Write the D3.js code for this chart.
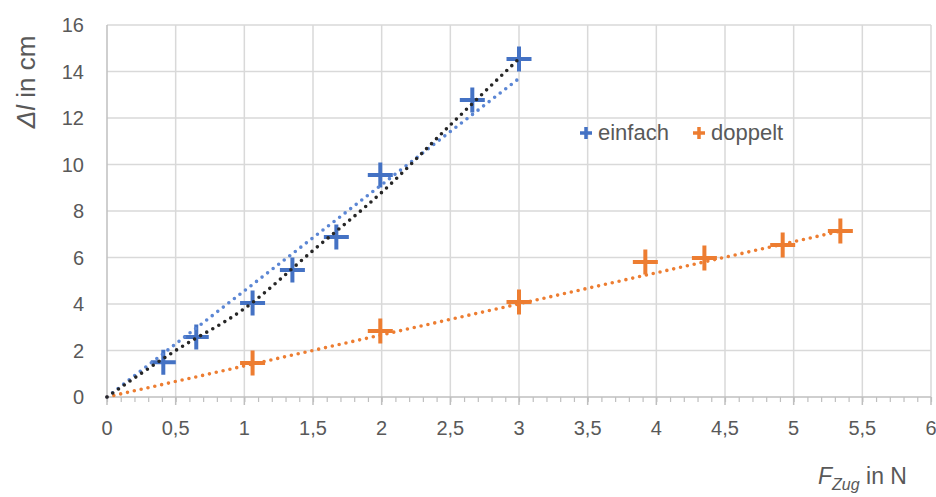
<!DOCTYPE html>
<html>
<head>
<meta charset="utf-8">
<title>Dehnung</title>
<script src="https://cdnjs.cloudflare.com/ajax/libs/d3/7.8.5/d3.min.js"></script>
<style>
  body { margin: 0; background: #fff; }
  svg { display: block; font-family: "Liberation Sans", Arial, sans-serif; }
</style>
</head>
<body>
<svg id="chart" width="936" height="497"></svg>
<script>
// measured values (F in N, Δl in cm)
const einfachF = [0.41, 0.65, 1.06, 1.35, 1.67, 1.99, 2.66, 3.0];
const einfachL = [1.5, 2.58, 4.04, 5.46, 6.88, 9.55, 12.77, 14.54];
const doppeltF = [1.06, 1.99, 3.0, 3.92, 4.35, 4.92, 5.34];
const doppeltL = [1.46, 2.84, 4.09, 5.81, 5.98, 6.54, 7.14];

// trend lines
const trendBlackF = [0, 0.5, 1, 1.5, 2, 2.5, 3];
const trendBlackL = [0, 2.0, 3.8, 6.3, 8.8, 11.7, 14.55];
const trendBlueF = [0, 3];
const trendBlueL = [0, 13.7];
const trendOrangeF = [0, 5.33];
const trendOrangeL = [0, 7.12];

const xTicks = [0, 0.5, 1, 1.5, 2, 2.5, 3, 3.5, 4, 4.5, 5, 5.5, 6];
const yTicks = [0, 2, 4, 6, 8, 10, 12, 14, 16];
const legendNames = ['einfach', 'doppelt'];

const blue = '#4472c4', orange = '#ed7d31';
const svg = d3.select('#chart');

const x = d3.scaleLinear().domain([0, 6]).range([107, 931]);
const y = d3.scaleLinear().domain([0, 16]).range([397, 25]);
const fmt = v => String(v).replace('.', ',');

// grid
svg.append('g').selectAll('line').data(yTicks.slice(1)).join('line')
  .attr('x1', x(0)).attr('x2', x(6))
  .attr('y1', d => y(d)).attr('y2', d => y(d))
  .attr('stroke', '#d9d9d9').attr('stroke-width', 1.5);
svg.append('g').selectAll('line').data(xTicks.slice(1)).join('line')
  .attr('x1', d => x(d)).attr('x2', d => x(d))
  .attr('y1', y(0)).attr('y2', y(16))
  .attr('stroke', '#d9d9d9').attr('stroke-width', 1.5);

// axes
const xAxis = svg.append('g').attr('transform', `translate(0,${y(0)})`)
  .call(d3.axisBottom(x).ticks(60).tickSize(5).tickFormat(''));
xAxis.select('.domain').remove();
xAxis.selectAll('line').attr('stroke', '#bfbfbf').attr('stroke-width', 1.2);
svg.append('line').attr('x1', x(0)).attr('x2', x(6)).attr('y1', y(0)).attr('y2', y(0))
  .attr('stroke', '#bfbfbf').attr('stroke-width', 1.5);
svg.append('line').attr('x1', x(0)).attr('x2', x(0)).attr('y1', y(0)).attr('y2', y(16))
  .attr('stroke', '#bfbfbf').attr('stroke-width', 1.5);
svg.append('g').selectAll('line').data(xTicks).join('line')
  .attr('x1', d => x(d)).attr('x2', d => x(d))
  .attr('y1', y(0)).attr('y2', y(0) + 8)
  .attr('stroke', '#bfbfbf').attr('stroke-width', 1.5);

svg.append('g').selectAll('text').data(xTicks).join('text')
  .attr('x', d => x(d)).attr('y', 435)
  .attr('text-anchor', 'middle').attr('font-size', 20).attr('fill', '#595959')
  .text(fmt);
svg.append('g').selectAll('text').data(yTicks).join('text')
  .attr('x', 84).attr('y', d => y(d) + 7)
  .attr('text-anchor', 'end').attr('font-size', 20).attr('fill', '#595959')
  .text(fmt);

// axis titles
svg.append('text').attr('transform', 'translate(35,82) rotate(-90)')
  .attr('text-anchor', 'middle').attr('font-size', 26).attr('fill', '#595959')
  .html('<tspan font-style="italic">Δl</tspan> in cm');
svg.append('text').attr('x', 818).attr('y', 484)
  .attr('font-size', 23).attr('fill', '#595959')
  .html('<tspan font-style="italic">F</tspan><tspan font-style="italic" font-size="16" dy="6">Zug</tspan><tspan dy="-6"> in N</tspan>');

// markers
const cross = s => `M${-s},0H${s}M0,${-s}V${s}`;
function drawPoints(fs, ls, color) {
  svg.append('g').selectAll('path').data(d3.zip(fs, ls)).join('path')
    .attr('transform', d => `translate(${x(d[0])},${y(d[1])})`)
    .attr('d', cross(12.5))
    .attr('stroke', color).attr('stroke-width', 4).attr('fill', 'none');
}
drawPoints(einfachF, einfachL, blue);
drawPoints(doppeltF, doppeltL, orange);

// trend lines
const line = d3.line().x(d => x(d[0])).y(d => y(d[1])).curve(d3.curveMonotoneX);
function drawTrend(fs, ls, color) {
  svg.append('path').datum(d3.zip(fs, ls))
    .attr('d', line).attr('fill', 'none')
    .attr('stroke', color).attr('stroke-width', 3.6)
    .attr('stroke-linecap', 'round').attr('stroke-dasharray', '0 7');
}
drawTrend(trendOrangeF, trendOrangeL, orange);
drawTrend(trendBlueF, trendBlueL, '#5b86d4');
drawTrend(trendBlackF, trendBlackL, '#262626');

// legend
const legend = svg.append('g').selectAll('g').data(legendNames).join('g')
  .attr('transform', (d, i) => `translate(${[586, 699][i]},133)`);
legend.append('path').attr('d', cross(6))
  .attr('stroke', (d, i) => [blue, orange][i]).attr('stroke-width', 3.5);
legend.append('text').attr('x', 12).attr('y', 7)
  .attr('font-size', 22).attr('fill', '#595959').text(d => d);
</script>
</body>
</html>
